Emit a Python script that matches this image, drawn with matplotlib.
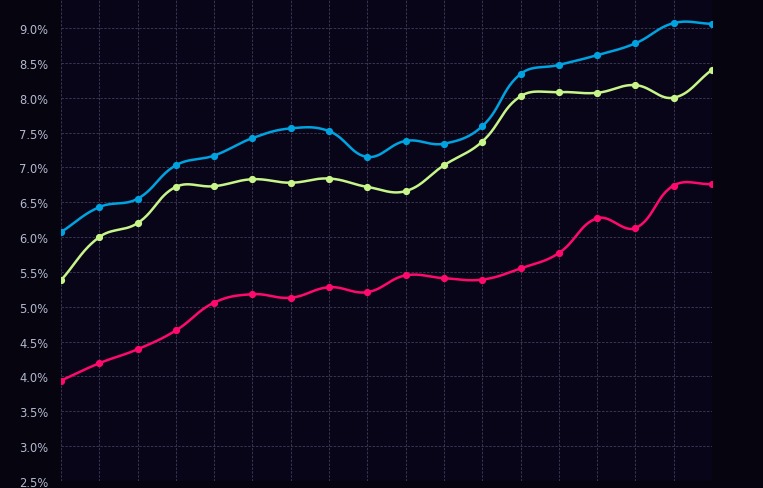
import numpy as np
import matplotlib
matplotlib.use("Agg")
import matplotlib.pyplot as plt
from matplotlib.ticker import FuncFormatter, MultipleLocator

# dane (w %)
blue = [6.07, 6.43, 6.55, 7.03, 7.17, 7.42, 7.56, 7.52, 7.15, 7.38, 7.34, 7.59, 8.34, 8.47, 8.61, 8.78, 9.07, 9.06]
green = [5.38, 6.00, 6.20, 6.72, 6.73, 6.83, 6.78, 6.84, 6.72, 6.66, 7.03, 7.37, 8.02, 8.08, 8.07, 8.18, 8.00, 8.40]
pink = [3.94, 4.19, 4.39, 4.66, 5.06, 5.18, 5.13, 5.28, 5.21, 5.45, 5.41, 5.39, 5.55, 5.77, 6.27, 6.13, 6.74, 6.76]

colors = ["#00a3e0", "#c8f58a", "#ff0a6c"]

# skala piksele / jednostka - do wygladzania krzywych jak w Chart.js (tension 0.4)
XS, YS = 38.3, 69.7


def smooth(x, y, t=0.4, n=30):
    px = np.array(x, float) * XS
    py = np.array(y, float) * YS
    m = len(px)
    c1 = np.zeros((m, 2))
    c2 = np.zeros((m, 2))
    for i in range(m):
        p0 = (px[max(i-1, 0)], py[max(i-1, 0)])
        p1 = (px[i], py[i])
        p2 = (px[min(i+1, m-1)], py[min(i+1, m-1)])
        d01 = np.hypot(p1[0]-p0[0], p1[1]-p0[1])
        d12 = np.hypot(p2[0]-p1[0], p2[1]-p1[1])
        s01 = d01/(d01+d12) if d01+d12 else 0
        s12 = d12/(d01+d12) if d01+d12 else 0
        fa, fb = t*s01, t*s12
        c1[i] = (p1[0]-fa*(p2[0]-p0[0]), p1[1]-fa*(p2[1]-p0[1]))
        c2[i] = (p1[0]+fb*(p2[0]-p0[0]), p1[1]+fb*(p2[1]-p0[1]))
    xs, ys = [], []
    s = np.linspace(0, 1, n)
    for i in range(m-1):
        P0 = np.array([px[i], py[i]])
        P1 = c2[i]
        P2 = c1[i+1]
        P3 = np.array([px[i+1], py[i+1]])
        pts = ((1-s)**3)[:, None]*P0 + (3*(1-s)**2*s)[:, None]*P1 + (3*(1-s)*s**2)[:, None]*P2 + (s**3)[:, None]*P3
        xs.extend(pts[:, 0])
        ys.extend(pts[:, 1])
    return np.array(xs)/XS, np.array(ys)/YS


fig = plt.figure(figsize=(7.63, 4.89), dpi=100)
fig.patch.set_facecolor("#05040f")
ax = fig.add_axes([61/763, 7/489, (712-61)/763, 482/489])
ax.set_facecolor("#080519")

x = np.arange(len(blue))
for series, c in zip([blue, green, pink], colors):
    sx, sy = smooth(x, series)
    ax.plot(sx, sy, color=c, lw=1.8, zorder=3, solid_capstyle="round")
    ax.plot(x, series, "o", color=c, ms=4.2, zorder=4)

ax.set_xlim(0, len(blue)-1)
ax.set_ylim(2.5, 9.0 + 29/69.7)
ax.yaxis.set_major_locator(MultipleLocator(0.5))
ax.yaxis.set_major_formatter(FuncFormatter(lambda v, p: f"{v:.1f}%"))
ax.set_xticks(x)
ax.set_xticklabels([])
ax.tick_params(axis="both", length=0, colors="#b4b9d0", labelsize=8.3, pad=9)
ax.grid(True, color="#3a3450", linestyle=(0, (2.5, 1.5)), linewidth=0.7)
for s in ax.spines.values():
    s.set_visible(False)

fig.savefig("out.png", dpi=100, facecolor=fig.get_facecolor())
